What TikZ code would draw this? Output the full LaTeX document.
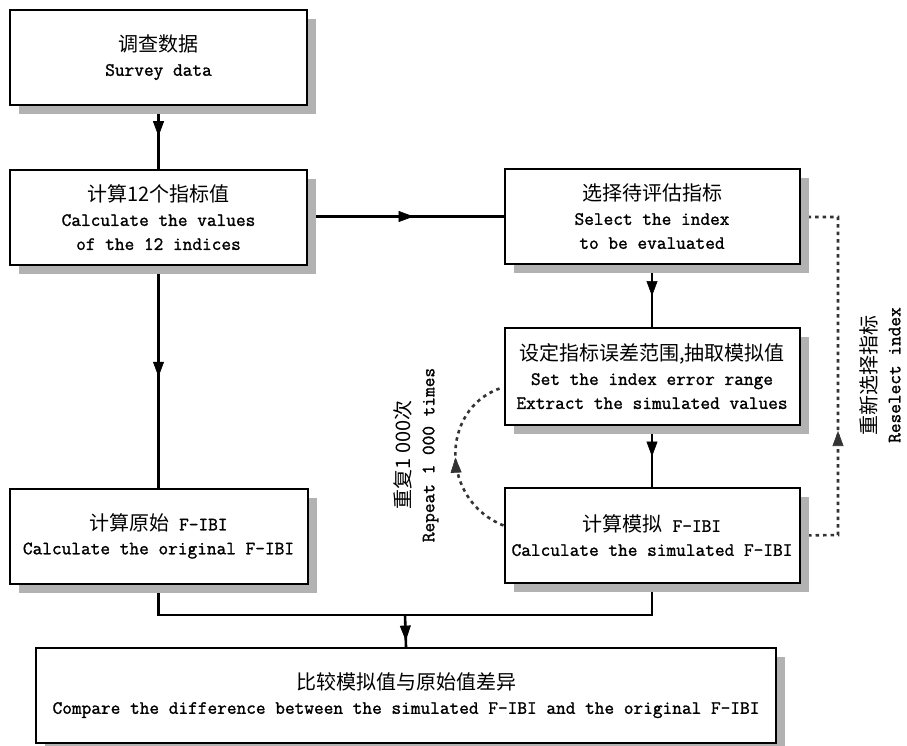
\documentclass[tikz,border=0pt]{standalone}
\usepackage{fontspec}
\newfontfamily\cjk{Noto Sans CJK SC}
\newfontfamily\entt{Latin Modern Mono}[FakeBold=1.3]
\usetikzlibrary{arrows.meta,shadows,decorations.markings}
\pgfdeclarelayer{backmost}
\pgfdeclarelayer{background}
\pgfsetlayers{backmost,background,main}
\newcommand{\zhtxt}[1]{{\cjk\fontsize{20}{24}\selectfont #1}}
\begin{document}
\begin{tikzpicture}[x=1pt,y=-1pt,
  box/.style={draw, line width=2pt, fill=white, align=center, inner sep=0pt,
    font=\entt\fontsize{18.8}{24}\selectfont,
    drop shadow={shadow xshift=9pt, shadow yshift=-9pt, fill=black!30, opacity=1}},
  lbl/.style={align=center, rotate=90, font=\entt\fontsize{18.8}{24}\selectfont},
  conn/.style={line width=2.6pt},
  dotline/.style={line width=2.6pt, dash pattern=on 3.5pt off 4pt, black!80},
  midarrow/.style={postaction={decorate}, decoration={markings,
    mark=at position #1 with {\arrow[line width=0.6pt]{Triangle[length=15pt,width=11pt]}}}}
]
\useasboundingbox (0,0) rectangle (907,745);
\begin{pgfonlayer}{backmost}
\fill[white] (0,0) rectangle (907,745);
\end{pgfonlayer}

\node[box, minimum width=297pt, minimum height=95pt] (b1) at (158.5,57.5)
  {\zhtxt{调查数据}\\Survey data};
\node[box, minimum width=297pt, minimum height=95pt] (b2) at (158.5,217.5)
  {\zhtxt{计算12个指标值}\\Calculate the values\\of the 12 indices};
\node[box, minimum width=295pt, minimum height=95pt] (b3) at (652,216.5)
  {\zhtxt{选择待评估指标}\\Select the index\\to be evaluated};
\node[box, minimum width=295pt, minimum height=97pt] (b4) at (652,376.5)
  {\zhtxt{设定指标误差范围,抽取模拟值}\\Set the index error range\\Extract the simulated values};
\node[box, minimum width=295pt, minimum height=95pt] (b5) at (652,535.5)
  {\zhtxt{计算模拟} F-IBI\\Calculate the simulated F-IBI};
\node[box, minimum width=298pt, minimum height=95pt] (b6) at (158.5,536)
  {\zhtxt{计算原始} F-IBI\\Calculate the original F-IBI};
\node[box, minimum width=740pt, minimum height=95pt] (b7) at (406,695.5)
  {\zhtxt{比较模拟值与原始值差异}\\Compare the difference between the simulated F-IBI and the original F-IBI};

\node[lbl] (rep) at (416,455) {\zhtxt{重复1 000次}\\Repeat 1 000 times};
\node[lbl] (res) at (880,375) {\zhtxt{重新选择指标}\\Reselect index};

\coordinate (j) at (405,615);
\coordinate (r1) at (838,217);
\coordinate (r2) at (838,535);

\begin{pgfonlayer}{background}
\draw[conn, midarrow=0.48] (b1) -- (b2);
\draw[conn, midarrow=0.54] (b2.east |- b3) -- (b3);
\draw[conn, midarrow=0.5] (b2) -- (b6);
\draw[conn, midarrow=0.5] (b3) -- (b4);
\draw[conn, midarrow=0.5] (b4) -- (b5);
\draw[conn] (b6.south) -- (b6.south |- j) -- (b5.south |- j) -- (b5.south);
\draw[conn, midarrow=0.8] (j) -- (b7.north);
\draw[dotline, midarrow=0.36] (b5.east) -- (r2) -- (r1) -- (b3.east |- r1);
\draw[dotline, midarrow=0.5] ([yshift=10pt]b5.west) .. controls (440,500) and (440,410) .. ([yshift=-12pt,xshift=-4pt]b4.west);
\end{pgfonlayer}
\end{tikzpicture}
\end{document}
